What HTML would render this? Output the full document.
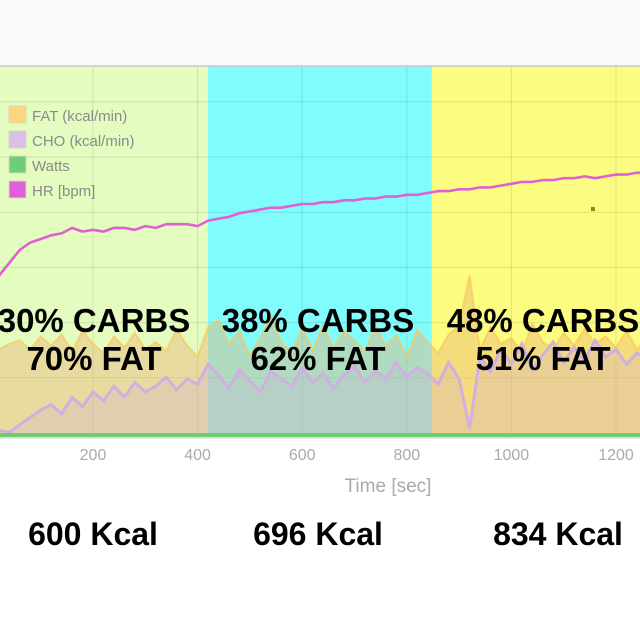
<!DOCTYPE html>
<html><head><meta charset="utf-8"><style>
body{margin:0;width:640px;height:640px;overflow:hidden;background:#fff;font-family:"Liberation Sans",sans-serif}
svg{display:block}
</style></head><body>
<svg id="chart" width="640" height="640">
<rect x="0" y="0" width="640" height="66" fill="#f9f9f9"/>
<g id="zones"></g>
<g id="grid"></g>
<g id="series"></g>
<line x1="0" y1="66" x2="640" y2="66" stroke="#c8c8c8" stroke-width="1.5"/>
<g id="legend">
<rect x="9" y="106" width="17" height="17" fill="#f9d77e" stroke="#d8d8c0"/>
<text x="32" y="121" font-size="15" fill="#8a8a8a">FAT (kcal/min)</text>
<rect x="9" y="131" width="17" height="17" fill="#d8c0e8" stroke="#d8d8c0"/>
<text x="32" y="146" font-size="15" fill="#8a8a8a">CHO (kcal/min)</text>
<rect x="9" y="156" width="17" height="17" fill="#6ccf78" stroke="#d8d8c0"/>
<text x="32" y="171" font-size="15" fill="#8a8a8a">Watts</text>
<rect x="9" y="181" width="17" height="17" fill="#e060d8" stroke="#d8d8c0"/>
<text x="32" y="196" font-size="15" fill="#8a8a8a">HR [bpm]</text>
</g>
<rect x="591" y="207" width="4" height="4" fill="#8a8a20"/>
<g id="xticks"></g>
<text x="388" y="492" font-size="19" fill="#aaa" text-anchor="middle">Time [sec]</text>
<g font-weight="bold" font-size="33" fill="#000" text-anchor="middle">
<text x="94" y="332">30% CARBS</text>
<text x="94" y="370">70% FAT</text>
<text x="318" y="332">38% CARBS</text>
<text x="318" y="370">62% FAT</text>
<text x="543" y="332">48% CARBS</text>
<text x="543" y="370">51% FAT</text>
</g>
<g font-weight="bold" font-size="32" fill="#000" text-anchor="middle">
<text x="93" y="545">600 Kcal</text>
<text x="318" y="545">696 Kcal</text>
<text x="558" y="545">834 Kcal</text>
</g>
</svg>
<script>
const zoneStarts=[0,420,848];
const zoneEnds=[420,848,1300];
const zoneColors=['#e4fcc0','#80fcfc','#fcfc80'];
const xTicks=[200,400,600,800,1000,1200];
const yGrid=[3,6,9,12,15,18];
const times=[0,20,40,60,80,100,120,140,160,180,200,220,240,260,280,300,320,340,360,380,400,420,440,460,480,500,520,540,560,580,600,620,640,660,680,700,720,740,760,780,800,820,840,860,880,900,920,940,960,980,1000,1020,1040,1060,1080,1100,1120,1140,1160,1180,1200,1220,1240,1260];
const hr=[78,86,93,100,104,106,108,109,112,110,111,110,112,112,111,113,112,114,114,114,113,116,117,118,120,121,122,123,123,124,125,125,126,126,127,127,128,128,129,129,130,130,131,132,132,133,133,134,134,135,136,137,137,138,138,139,139,140,139,140,141,141,142,142];
const fat=[4.3,4.6,4.9,5.1,4.6,5.3,4.8,5.4,4.5,5.6,4.9,4.4,5.3,4.7,5.5,4.6,5.0,4.5,5.7,4.8,4.2,5.8,6.2,4.9,5.6,4.3,5.2,6.4,5.0,4.4,5.8,4.6,5.9,4.7,5.6,5.1,4.5,5.9,4.8,5.4,4.2,5.7,5.0,4.4,5.4,5.9,8.6,4.6,5.8,4.9,5.2,4.4,6.0,5.0,4.6,5.5,4.8,5.7,4.9,5.3,4.7,5.6,4.6,5.2];
const cho=[0.4,0.2,0.1,0.5,0.9,1.3,1.6,1.1,2.0,1.5,2.3,1.8,2.6,2.0,2.8,2.3,2.6,3.1,2.4,3.0,2.7,3.8,3.2,2.5,3.5,2.9,2.3,3.4,3.0,2.6,3.6,2.8,3.3,2.5,3.2,3.7,2.8,3.4,3.0,3.9,3.1,3.6,3.3,2.7,3.9,3.0,0.3,4.2,3.4,4.6,3.8,4.9,3.5,4.3,5.0,3.9,4.7,4.0,5.1,4.2,4.6,3.8,4.4,4.1];
const watts=[0,0,0,0,0,0,0,0,0,0,0,0,0,0,0,0,0,0,0,0,0,0,0,0,0,0,0,0,0,0,0,0,0,0,0,0,0,0,0,0,0,0,0,0,0,0,0,0,0,0,0,0,0,0,0,0,0,0,0,0,0,0,0,0];
const NS='http://www.w3.org/2000/svg';
const x=t=>-11.6+0.523*t;
const yK=v=>434-v*18.4;
const yH=v=>434-v*1.84;
function mk(tag,attrs,parent){const e=document.createElementNS(NS,tag);for(const k in attrs)e.setAttribute(k,attrs[k]);parent.appendChild(e);return e;}
const zg=document.getElementById('zones');
zoneStarts.forEach((s,i)=>{const r=mk('rect',{x:Math.max(0,x(s)),y:66,width:x(zoneEnds[i])-Math.max(0,x(s)),height:368,fill:zoneColors[i]},zg);

});
const gg=document.getElementById('grid');
xTicks.forEach(t=>{const l=mk('line',{x1:x(t),x2:x(t),y1:66,y2:434,stroke:'rgba(0,0,0,0.1)'},gg);

});
yGrid.forEach(v=>{const l=mk('line',{x1:0,x2:640,y1:yK(v)-1,y2:yK(v)-1,stroke:'rgba(0,0,0,0.1)'},gg);

});
const sg=document.getElementById('series');
function area(vals,fill,stroke,name,w){
 let d='M'+x(times[0])+','+434;vals.forEach((v,i)=>d+=' L'+x(times[i]).toFixed(1)+','+yK(v).toFixed(1));d+=' L'+x(times[times.length-1])+',434 Z';
 const a=mk('path',{d:d,fill:fill},sg);
 
 
 let p='';vals.forEach((v,i)=>p+=(i?' L':'M')+x(times[i]).toFixed(1)+','+yK(v).toFixed(1));
 const l=mk('path',{d:p,fill:'none',stroke:stroke,'stroke-width':w},sg);
 
 
}
area(fat,'rgba(235,180,120,0.45)','rgba(248,200,90,0.7)','fat',2);
area(cho,'rgba(200,170,220,0.25)','#d0b0e0','cho',3);
let wp='';watts.forEach((v,i)=>wp+=(i?' L':'M')+x(times[i]).toFixed(1)+','+(yK(v)+1).toFixed(1));
const wl=mk('path',{d:wp,fill:'none',stroke:'#70cc70','stroke-width':4},sg);


mk('line',{x1:0,x2:640,y1:438,y2:438,stroke:'#e0e0e0','stroke-width':2},sg);
let hp='';hr.forEach((v,i)=>hp+=(i?' L':'M')+x(times[i]).toFixed(1)+','+yH(v).toFixed(1));
const hl=mk('path',{d:hp,fill:'none',stroke:'#e060d0','stroke-width':2.6,'stroke-linejoin':'round'},sg);


const xt=document.getElementById('xticks');
xTicks.forEach(t=>{const e=mk('text',{x:x(t),y:460,'font-size':16,fill:'#aaa','text-anchor':'middle'},xt);e.textContent=t;

});
</script>
</body></html>
